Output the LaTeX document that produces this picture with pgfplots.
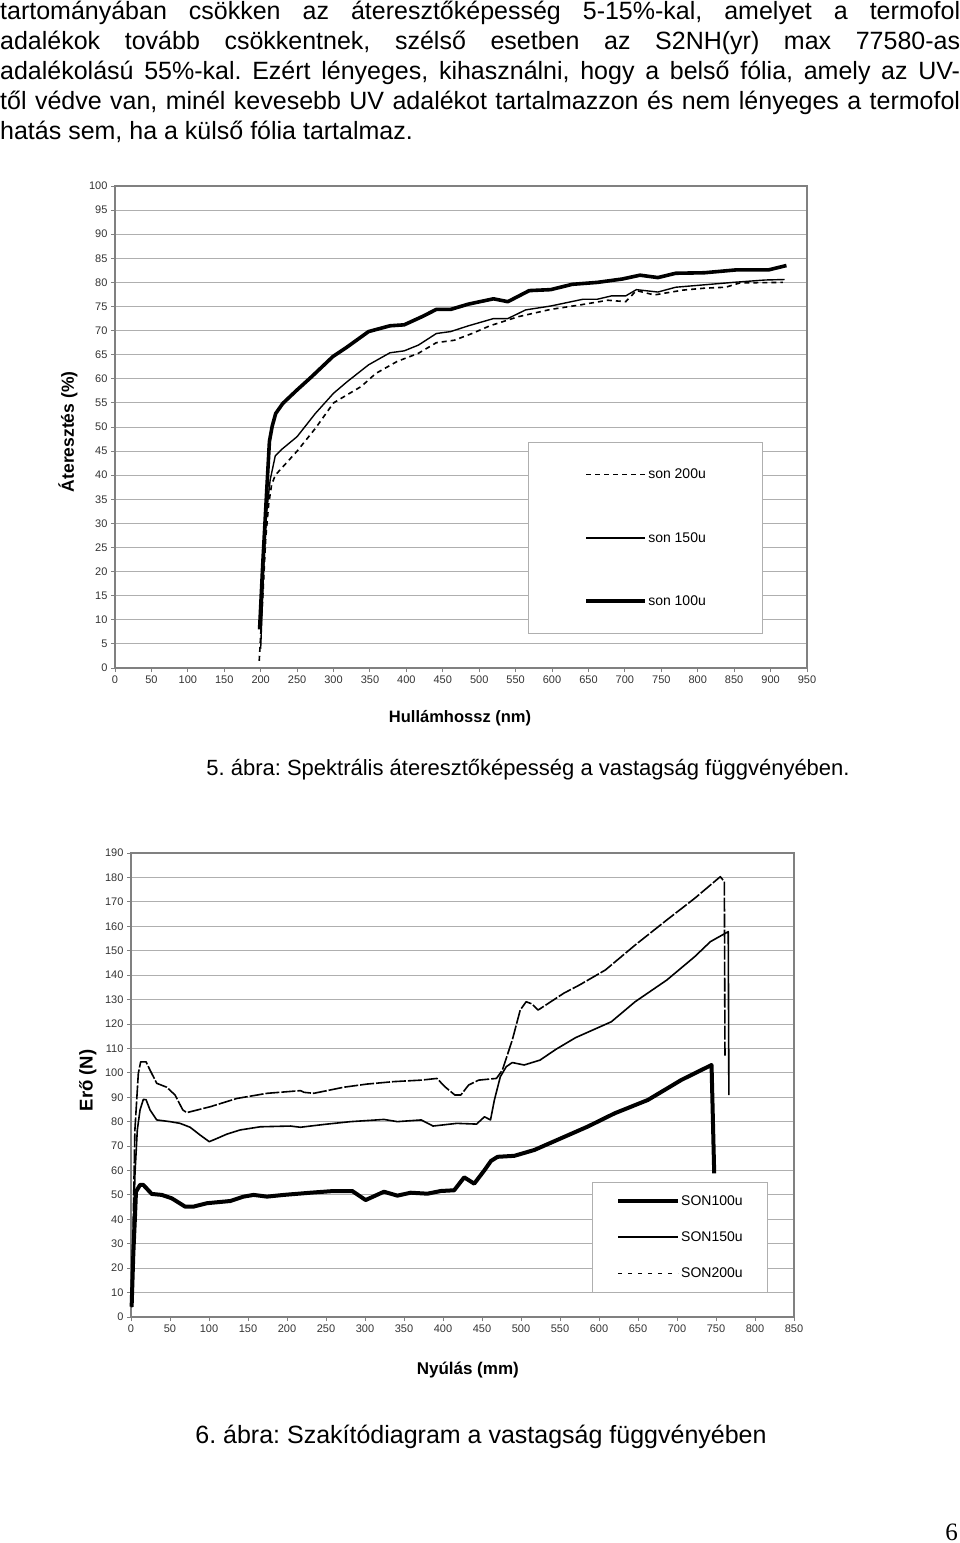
\documentclass[border=0pt]{standalone}
\usepackage{fontspec}
\setmainfont{Liberation Sans}
\newfontfamily\seriffont{Liberation Serif}
\usepackage{pgfplots}
\pgfplotsset{compat=1.18}
\definecolor{gridc}{RGB}{175,175,175}
\definecolor{axc}{RGB}{128,128,128}
\newcommand{\bodyfont}{\fontsize{25}{30}\selectfont}
\pgfplotsset{
  mystyle/.style={
    scale only axis,
    ymajorgrids,
    grid style={gridc, line width=0.9pt},
    axis line style={axc, line width=1.1pt},
    tick style={axc, line width=0.9pt},
    tick align=outside,
    major tick length=4pt,
    xtick pos=bottom, ytick pos=left,
    tick label style={font=\fontsize{11}{13}\selectfont, text=black!80},
    /pgf/number format/assume math mode=true,
    /pgf/number format/1000 sep={},
    clip=false,
  }
}
\frenchspacing
\begin{document}
\frenchspacing
\begin{tikzpicture}
\path[use as bounding box] (0pt,0pt) rectangle (960pt,-1543pt);
% body text
\node[anchor=base west, inner sep=0pt, font=\bodyfont] at (0pt,-19.5pt) {\makebox[960pt][s]{tartományában csökken az áteresztőképesség 5-15\%-kal, amelyet a termofol}};
\node[anchor=base west, inner sep=0pt, font=\bodyfont] at (0pt,-49.5pt) {\makebox[960pt][s]{adalékok tovább csökkentnek, szélső esetben az S2NH(yr) max 77580-as}};
\node[anchor=base west, inner sep=0pt, font=\bodyfont] at (0pt,-79.5pt) {\makebox[960pt][s]{adalékolású 55\%-kal. Ezért lényeges, kihasználni, hogy a belső fólia, amely az UV-}};
\node[anchor=base west, inner sep=0pt, font=\bodyfont] at (0pt,-109.5pt) {\makebox[960pt][s]{től védve van, minél kevesebb UV adalékot tartalmazzon és nem lényeges a termofol}};
\node[anchor=base west, inner sep=0pt, font=\bodyfont] at (0pt,-139.5pt) {hatás sem, ha a külső fólia tartalmaz.};

% ---------- Chart 1 ----------
\begin{axis}[mystyle,
  at={(115pt,-668pt)}, anchor=south west,
  width=692pt, height=482pt,
  xmin=0, xmax=950, ymin=0, ymax=100,
  xtick={0,50,...,950}, ytick={0,5,...,100},
  xlabel={Hullámhossz (nm)}, ylabel={Áteresztés (\%)},
  every axis x label/.style={at={(axis description cs:0.4986,-0.104)}, anchor=center, font=\bfseries\fontsize{16.5}{19}\selectfont},
  every axis y label/.style={at={(axis description cs:-0.068,0.49)}, anchor=center, rotate=90, font=\bfseries\fontsize{17.5}{20}\selectfont},
  legend style={at={(0.767,0.270)}, anchor=center, draw=gridc, line width=0.9pt, fill=white,
    font=\fontsize{14}{16}\selectfont, inner xsep=56pt, inner ysep=26pt, row sep=50pt,
    nodes={inner sep=1pt}, cells={anchor=west}},
  legend image code/.code={\draw[#1] (0pt,0pt) -- (59pt,0pt);},
  reverse legend,
]
\addplot[black, line width=3.6pt, line join=round] coordinates {
(198.5,8)(203,22)(208,36)(212,47)(215.7,50.1)(220.6,52.8)(230.4,54.9)(250,57.7)(269.7,60.4)(299,64.6)(318.7,66.6)(348.1,69.8)(377.5,71.0)(397,71.2)(421.6,72.9)(441.2,74.4)(460.8,74.4)(485.3,75.5)(519.7,76.6)(539.3,76.0)(568.7,78.3)(598.1,78.5)(627.6,79.6)(661.9,80.0)(696.2,80.7)(720.8,81.5)(745.3,81.0)(769.8,81.9)(809,82.0)(853.2,82.6)(897.3,82.6)(921.8,83.5)
};
\addlegendentry{son 100u}
\addplot[black, line width=1.4pt, line join=round] coordinates {
(200,4)(204,20)(208,32)(213,39)(220,44)(230,45.5)(250,48)(275,52.8)(300,57)(318.7,59.4)(348.1,62.9)(377.5,65.4)(397,65.8)(416.6,67.0)(441.2,69.4)(460.8,69.8)(485.3,71.0)(519.7,72.5)(539.3,72.5)(563.8,74.3)(598.1,75.1)(642.2,76.5)(661.9,76.5)(681.5,77.2)(701.1,77.2)(715.8,78.5)(745.3,78.0)(769.8,79.0)(809,79.5)(848.3,80.0)(892.4,80.5)(919.4,80.6)
};
\addlegendentry{son 150u}
\addplot[black, line width=1.6pt, dash pattern=on 5pt off 4pt] coordinates {
(198,1.5)(203,15)(207,27)(211,34)(215,38)(220,40)(235,42.5)(250,45)(275,49.7)(300,55)(320,56.8)(338,58.4)(357.9,61.1)(387.3,63.6)(416.6,65.3)(441.2,67.5)(465.7,68.0)(490.2,69.4)(514.7,71.0)(554,72.9)(598.1,74.4)(637.4,75.3)(676.6,76.3)(701.1,76.0)(715.8,78.3)(740.4,77.4)(779.6,78.4)(809,78.8)(838.4,79.0)(858,79.9)(916.9,80.0)
};
\addlegendentry{son 200u}
\end{axis}
\node[font=\fontsize{22}{26}\selectfont] at (528pt,-770pt) {5. ábra: Spektrális áteresztőképesség a vastagság függvényében.};

% ---------- Chart 2 ----------
\begin{axis}[mystyle,
  at={(131pt,-1317pt)}, anchor=south west,
  width=663pt, height=464pt,
  xmin=0, xmax=850, ymin=0, ymax=190,
  xtick={0,50,...,850}, ytick={0,10,...,190},
  xlabel={Nyúlás (mm)}, ylabel={Erő (N)},
  every axis x label/.style={at={(axis description cs:0.508,-0.114)}, anchor=center, font=\bfseries\fontsize{17}{20}\selectfont},
  every axis y label/.style={at={(axis description cs:-0.065,0.51)}, anchor=center, rotate=90, font=\bfseries\fontsize{18.5}{21}\selectfont},
  legend style={at={(0.828,0.172)}, anchor=center, draw=gridc, line width=0.9pt, fill=white,
    font=\fontsize{14}{16}\selectfont, inner xsep=24pt, inner ysep=12pt, row sep=23pt,
    nodes={inner sep=1pt}, cells={anchor=west}},
  legend image code/.code={\draw[#1] (0pt,0pt) -- (60pt,0pt);},
]
\addplot[black, line width=4pt, line join=round] coordinates {
(0.8,4.2)(3,26.1)(5.1,41.1)(6.4,51.3)(11.6,54.1)(15.8,54.1)(26.6,50.4)(39.5,50)(52.3,48.6)(69.4,45.2)(80.1,45.2)(97.3,46.6)(127.3,47.5)(144.3,49.3)(157.2,50)(174.4,49.3)(195.8,50)(230.1,50.9)(260,51.6)(283.6,51.6)(300.8,47.9)(324.3,51.3)(341.5,49.7)(358.6,50.9)(380,50.5)(397.2,51.6)(414.3,51.9)(427.2,57.2)(440,54.6)(452.9,60)(461.5,63.9)(470,65.6)(491.4,66)(517.1,68.4)(551.4,73.2)(585.7,78)(620,83.4)(662.8,88.9)(705.7,97.1)(744.3,103.2)(747.7,58.8)
};
\addlegendentry{SON100u}
\addplot[black, line width=1.6pt, line join=round] coordinates {
(0.8,4)(5.1,58.8)(8.1,76.6)(11.6,84.8)(15.8,89.1)(19.3,89)(24.4,84.8)(33,80.7)(50.1,80)(62.9,79.3)(75.8,77.7)(88.7,74.5)(100.3,71.8)(110.1,73.1)(123,74.9)(140,76.6)(165.8,77.9)(204.4,78.2)(217.2,77.7)(230.1,78.2)(251.5,79)(281.5,80)(324.3,80.9)(341.5,80)(372,80.7)(387.3,78.2)(417.7,79.3)(443,79)(453.2,82)(460.9,80.7)(465.9,88.9)(473.5,98.4)(481.1,102.5)(488.8,104.2)(504,103.2)(524.4,105.2)(544.7,109.6)(570,114.4)(615.8,120.9)(646.3,129.1)(687,138)(722.5,147.5)(742.8,153.7)(765.7,157.8)(766.5,90.9)
};
\addlegendentry{SON150u}
\addplot[black, line width=1.6pt, line join=round, dash pattern=on 14pt off 2pt, forget plot] coordinates {
(0.8,4)(5,76.6)(9.4,99.8)(12.4,104.5)(19.3,104.5)(24.4,101.1)(33,95.7)(45.8,94.1)(56.5,90.9)(66.4,84.8)(71.5,83.7)(101.5,86.1)(135.8,89.5)(174.4,91.6)(217.2,92.7)(222,92)(234.3,91.6)(272.9,94.1)(302.9,95.4)(337.2,96.4)(372,97.0)(392.3,97.7)(402.4,94.3)(415.2,90.9)(422.8,90.9)(432.9,95.0)(445.6,97.0)(468.5,97.7)(476.1,101.1)(488.8,113.4)(499,125.7)(506.6,129.1)(514.1,128.2)(521.9,125.7)(532,127.8)(554.9,132.6)(575.2,136)(608.2,142.1)(646.3,152.3)(687,162.6)(722.5,171.4)(755.5,180.3)(760.7,178.3)(761.5,107)
};
\addlegendimage{black, line width=1.4pt, dash pattern=on 4pt off 6pt}
\addlegendentry{SON200u}
\end{axis}
\node[font=\bodyfont] at (481pt,-1437pt) {6. ábra: Szakítódiagram a vastagság függvényében};
\node[anchor=base east, inner sep=0pt, font=\seriffont\fontsize{25}{30}\selectfont] at (958pt,-1540pt) {6};
\end{tikzpicture}
\end{document}
